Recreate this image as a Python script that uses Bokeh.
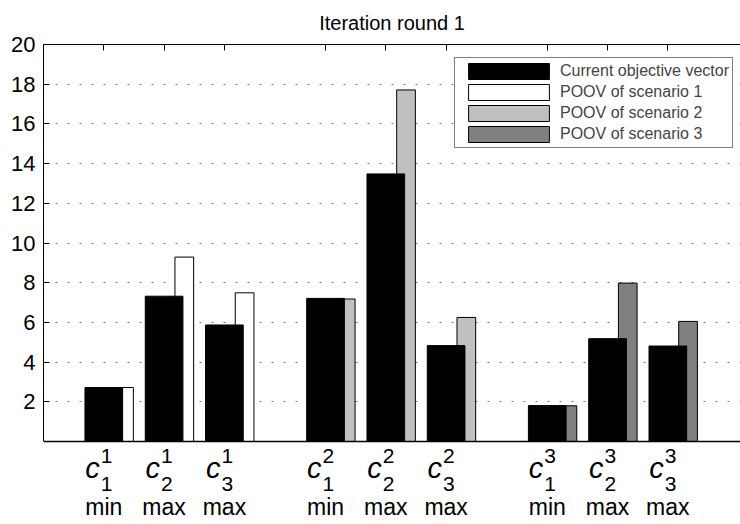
from bokeh.plotting import figure
from bokeh.models import (ColumnDataSource, FixedTicker, LinearAxis, Legend,
                          LegendItem, Range1d, Span)
from bokeh.core.properties import value
from bokeh.embed import file_html
from bokeh.resources import INLINE

# ---------------- data ----------------
chart_title = "Iteration round 1"
scenarios = ["1", "2", "3"]            # superscripts (scenario index)
objectives = ["1", "2", "3"]           # subscripts (objective index)
senses = ["min", "max", "max"]
current = [2.72, 7.32, 5.87, 7.21, 13.48, 4.83, 1.81, 5.18, 4.81]
poov = [2.72, 9.29, 7.49, 7.18, 17.71, 6.25, 1.80, 7.98, 6.05]
legend_labels = ["Current objective vector", "POOV of scenario 1",
                 "POOV of scenario 2", "POOV of scenario 3"]
y_ticks = [2, 4, 6, 8, 10, 12, 14, 16, 18, 20]

# ---------------- layout / style ----------------
FONT = "Liberation Sans"
poov_colors = ["#ffffff", "#c0c0c0", "#808080"]
W, H = 740, 524
frame_left, frame_top, zero_px = 43, 44, 441
group_step = 3.677
px_per_x = 60.3
px_per_y = (zero_px - frame_top) / 20.0
y_min = -(H - zero_px) / px_per_y

xs = []
for g in range(len(scenarios)):
    for k in range(len(objectives)):
        xs.append(1 + k + g * group_step)

p = figure(width=W, height=H, output_backend="svg", toolbar_location=None,
           x_range=Range1d(0, (W - frame_left) / px_per_x),
           y_range=Range1d(y_min, 20),
           min_border_left=frame_left, min_border_right=0,
           min_border_top=frame_top, min_border_bottom=0)
p.outline_line_color = None
p.background_fill_color = "white"
p.border_fill_color = "white"

p.title.text = chart_title
p.title.align = "center"
p.title.vertical_align = "top"
p.title.text_font = FONT
p.title.text_font_size = "20px"
p.title.text_font_style = "normal"
p.title.text_color = "black"
p.title.standoff = 18

# grid
p.xgrid.visible = False
p.ygrid.ticker = FixedTicker(ticks=y_ticks)
p.ygrid.grid_line_color = "#777777"
p.ygrid.grid_line_dash = "2 10"
p.ygrid.grid_line_width = 1

# left axis (line limited to 0..20)
ya = p.yaxis[0]
ya.ticker = FixedTicker(ticks=y_ticks)
ya.bounds = (0, 20)
ya.major_tick_in = 6
ya.major_tick_out = 0
ya.minor_tick_line_color = None
ya.major_label_text_font = FONT
ya.major_label_text_font_size = "22px"
ya.major_label_text_color = "black"
ya.major_label_standoff = 8
ya.axis_line_color = "black"
ya.major_tick_line_color = "black"

p.xaxis.visible = False

# top axis: inward ticks at categories, no labels
top = LinearAxis(ticker=FixedTicker(ticks=xs))
top.major_tick_in = 6
top.major_tick_out = 0
top.minor_tick_line_color = None
top.major_label_text_font_size = "0px"
top.major_label_text_color = None
top.major_label_standoff = 0
top.axis_line_color = "black"
top.major_tick_line_color = "black"
p.add_layout(top, "above")

# baseline (x axis line at zero)
p.add_layout(Span(location=0, dimension="width", line_color="black", line_width=1.5))

# bars
bar_w = 0.625
poov_w = 0.31
poov_off = 0.335
n = len(objectives)
poov_renderers = []
for g in range(len(scenarios)):
    sl = slice(g * n, (g + 1) * n)
    src = ColumnDataSource(data=dict(x=[v + poov_off for v in xs[sl]], top=poov[sl]))
    r = p.vbar(x="x", top="top", width=poov_w, bottom=0, source=src,
               fill_color=poov_colors[g], line_color="black", line_width=1)
    poov_renderers.append(r)

cur_src = ColumnDataSource(data=dict(x=xs, top=current))
cur_r = p.vbar(x="x", top="top", width=bar_w, bottom=0, source=cur_src,
               fill_color="black", line_color="black", line_width=1)

items = [LegendItem(label=legend_labels[0], renderers=[cur_r])]
for g, r in enumerate(poov_renderers):
    items.append(LegendItem(label=legend_labels[g + 1], renderers=[r]))
legend = Legend(items=items, location=(411, H - 148), glyph_width=101, glyph_height=20,
                label_height=20, spacing=1, padding=3, label_standoff=1,
                label_text_font=FONT, label_text_font_size="16px",
                border_line_color="black", border_line_width=1,
                background_fill_color="white", background_fill_alpha=1,
                margin=0)
p.add_layout(legend, "center")

# category labels (text glyphs placed below the zero line)
sup_txt = [scenarios[i // n] for i in range(len(xs))]
sub_txt = [objectives[i % n] for i in range(len(xs))]
sense_txt = [senses[i % n] for i in range(len(xs))]

def below(px):
    return -px / px_per_y

p.text(x=xs, y=[below(26)] * len(xs), text=["c"] * len(xs), x_offset=-4,
       text_font=value(FONT), text_font_style="italic", text_font_size="29px",
       text_align="right", text_baseline="alphabetic", text_color="black")
p.text(x=xs, y=[below(14)] * len(xs), text=sup_txt, x_offset=-3,
       text_font=value(FONT), text_font_size="21px",
       text_align="left", text_baseline="alphabetic", text_color="black")
p.text(x=xs, y=[below(42)] * len(xs), text=sub_txt, x_offset=-3,
       text_font=value(FONT), text_font_size="21px",
       text_align="left", text_baseline="alphabetic", text_color="black")
p.text(x=xs, y=[below(65)] * len(xs), text=sense_txt, x_offset=0,
       text_font=value(FONT), text_font_size="23px",
       text_align="center", text_baseline="alphabetic", text_color="black")

open("out.html", "w").write(file_html(p, INLINE))
